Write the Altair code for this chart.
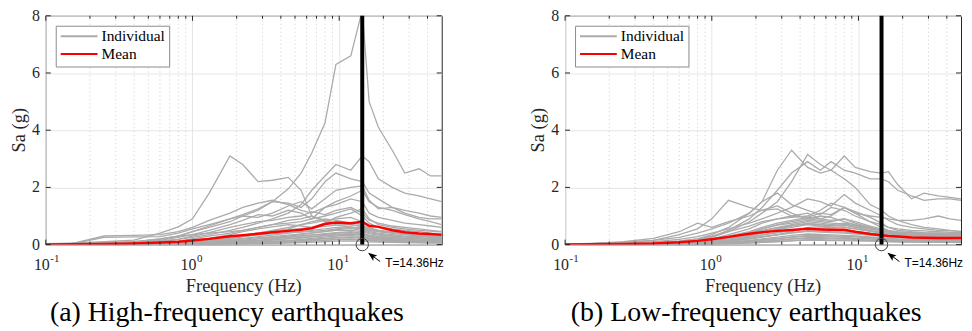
import altair as alt
import pandas as pd

# ---------------- data ----------------
freq = [0.1, 0.15, 0.25, 0.4, 0.6, 0.8, 1.0, 1.3, 1.8, 2.2, 2.8, 3.5, 4.5,
        5.5, 6.5, 8, 9.5, 12, 14.36, 16, 18.5, 23, 28, 35, 42, 50]

high_individual = [
    [0.02,0.04,0.06,0.1,0.18,0.3,0.45,0.65,0.9,1.05,1.25,1.5,1.95,2.5,3.2,4.25,6.3,6.6,8.2,5.0,4.1,3.3,2.5,2.65,2.4,2.4],
    [0.03,0.05,0.1,0.16,0.4,0.62,0.9,1.8,3.1,2.8,2.2,2.25,2.35,1.9,1.0,0.8,0.7,0.6,0.55,0.5,0.45,0.4,0.35,0.3,0.28,0.25],
    [0.01,0.02,0.04,0.07,0.12,0.18,0.25,0.35,0.5,0.6,0.75,0.9,1.1,1.4,1.9,2.4,2.8,2.6,3.1,2.9,2.3,2.0,1.8,1.7,1.6,1.5],
    [0.02,0.03,0.05,0.1,0.2,0.3,0.45,0.6,0.8,1.0,1.2,1.5,1.45,1.3,1.6,2.2,2.5,2.3,2.2,1.8,1.6,1.3,1.1,0.95,0.9,0.9],
    [0.02,0.03,0.3,0.32,0.35,0.45,0.6,0.85,1.1,1.3,1.45,1.55,1.4,1.2,1.1,1.3,1.5,1.7,1.9,1.5,1.3,1.2,1.05,0.9,0.8,0.7],
    [0.02,0.03,0.25,0.27,0.28,0.4,0.55,0.7,0.9,1.0,0.95,1.1,1.35,1.5,1.25,1.6,1.9,2.0,2.05,1.55,1.25,1.3,1.2,1.1,1.0,0.95],
    [0.01,0.02,0.04,0.08,0.15,0.25,0.35,0.5,0.7,0.85,1.05,1.0,1.2,1.1,0.9,1.3,1.4,1.6,1.5,1.1,0.95,0.85,0.75,0.7,0.65,0.6],
    [0.01,0.02,0.03,0.05,0.1,0.18,0.3,0.42,0.6,0.7,0.8,0.85,0.95,1.0,1.15,1.05,1.2,1.3,1.1,0.85,0.75,0.65,0.6,0.55,0.5,0.45],
    [0.01,0.01,0.02,0.04,0.07,0.12,0.2,0.3,0.4,0.5,0.6,0.7,0.75,0.8,0.9,1.0,1.1,1.25,1.0,0.75,0.6,0.55,0.5,0.45,0.4,0.38],
    [0.01,0.01,0.02,0.03,0.05,0.08,0.12,0.18,0.25,0.32,0.4,0.5,0.6,0.7,0.75,0.85,0.9,0.95,0.8,0.6,0.5,0.45,0.4,0.35,0.32,0.3],
    [0.0,0.01,0.01,0.02,0.03,0.05,0.08,0.12,0.18,0.22,0.28,0.33,0.4,0.45,0.5,0.55,0.6,0.62,0.55,0.45,0.4,0.35,0.3,0.28,0.25,0.24],
    [0.0,0.0,0.01,0.01,0.02,0.03,0.05,0.08,0.12,0.15,0.2,0.25,0.3,0.35,0.4,0.45,0.5,0.5,0.45,0.38,0.33,0.3,0.26,0.22,0.2,0.2],
    [0.0,0.0,0.01,0.01,0.02,0.02,0.04,0.06,0.09,0.12,0.15,0.2,0.25,0.3,0.34,0.38,0.42,0.45,0.4,0.33,0.28,0.25,0.22,0.2,0.18,0.17],
    [0.0,0.0,0.0,0.01,0.01,0.02,0.03,0.05,0.07,0.1,0.12,0.16,0.2,0.24,0.28,0.32,0.36,0.38,0.34,0.28,0.24,0.2,0.18,0.16,0.15,0.14],
    [0.0,0.0,0.0,0.01,0.01,0.01,0.02,0.03,0.05,0.07,0.09,0.12,0.15,0.18,0.22,0.26,0.3,0.32,0.28,0.24,0.2,0.17,0.15,0.13,0.12,0.11],
    [0.0,0.0,0.0,0.0,0.01,0.01,0.02,0.02,0.03,0.05,0.07,0.09,0.11,0.14,0.17,0.2,0.23,0.25,0.22,0.18,0.16,0.14,0.12,0.1,0.1,0.09],
    [0.0,0.0,0.0,0.0,0.0,0.01,0.01,0.02,0.02,0.03,0.05,0.06,0.08,0.1,0.12,0.15,0.17,0.18,0.16,0.14,0.12,0.1,0.09,0.08,0.07,0.07],
    [0.0,0.0,0.0,0.0,0.0,0.0,0.01,0.01,0.02,0.02,0.03,0.04,0.05,0.07,0.08,0.1,0.12,0.13,0.12,0.1,0.09,0.08,0.07,0.06,0.05,0.05],
    [0.0,0.01,0.01,0.02,0.04,0.06,0.1,0.15,0.2,0.28,0.36,0.45,0.55,0.7,0.8,0.9,0.85,0.75,0.7,0.55,0.5,0.42,0.38,0.34,0.3,0.28],
    [0.0,0.01,0.02,0.03,0.06,0.1,0.15,0.22,0.35,0.45,0.55,0.62,0.7,0.65,0.6,0.75,0.95,1.1,1.25,0.9,0.7,0.6,0.55,0.5,0.47,0.45],
    [0.0,0.01,0.02,0.03,0.05,0.08,0.12,0.18,0.26,0.33,0.4,0.46,0.52,0.56,0.6,0.64,0.68,0.7,0.64,0.55,0.48,0.42,0.37,0.33,0.3,0.28],
    [0.0,0.0,0.01,0.02,0.03,0.05,0.07,0.1,0.15,0.19,0.24,0.28,0.33,0.37,0.41,0.46,0.52,0.56,0.5,0.42,0.36,0.31,0.27,0.24,0.22,0.21],
    [0.0,0.0,0.01,0.01,0.02,0.03,0.04,0.06,0.09,0.11,0.14,0.17,0.21,0.24,0.27,0.31,0.34,0.36,0.33,0.28,0.24,0.21,0.18,0.16,0.15,0.14],
    [0.01,0.02,0.04,0.08,0.2,0.3,0.35,0.4,0.45,0.5,0.6,0.7,0.85,0.9,1.0,0.85,0.75,0.7,0.62,0.55,0.48,0.42,0.38,0.35,0.32,0.3],
    [0.0,0.0,0.0,0.01,0.01,0.02,0.02,0.03,0.05,0.06,0.08,0.1,0.13,0.16,0.19,0.22,0.25,0.27,0.25,0.21,0.18,0.15,0.13,0.12,0.11,0.1],
    [0.0,0.0,0.0,0.0,0.01,0.01,0.01,0.02,0.03,0.04,0.05,0.07,0.09,0.11,0.13,0.16,0.18,0.2,0.18,0.15,0.13,0.11,0.1,0.09,0.08,0.08],
    [0.0,0.01,0.01,0.02,0.04,0.07,0.1,0.15,0.22,0.28,0.34,0.38,0.42,0.44,0.46,0.5,0.55,0.6,0.58,0.5,0.45,0.4,0.36,0.33,0.31,0.3],
    [0.0,0.0,0.01,0.01,0.02,0.04,0.06,0.09,0.13,0.16,0.2,0.23,0.27,0.3,0.33,0.36,0.4,0.42,0.38,0.32,0.28,0.25,0.22,0.2,0.19,0.18],
]
high_mean = [0.0,0.01,0.02,0.04,0.07,0.1,0.14,0.2,0.29,0.33,0.38,0.43,0.48,0.52,0.57,0.72,0.77,0.75,0.8,0.66,0.62,0.5,0.43,0.39,0.37,0.34]

low_individual = [
    [0.01,0.02,0.04,0.07,0.12,0.2,0.35,0.6,1.1,1.5,2.6,3.3,2.7,2.5,2.6,2.3,2.0,1.4,1.2,1.0,0.85,0.7,0.6,0.55,0.5,0.45],
    [0.01,0.02,0.03,0.05,0.08,0.15,0.25,0.45,0.8,1.1,1.5,2.2,3.15,2.8,2.6,3.1,2.7,2.55,2.5,2.55,2.1,1.6,1.8,1.7,1.65,1.6],
    [0.01,0.02,0.03,0.05,0.1,0.16,0.28,0.5,0.9,1.3,1.9,2.5,2.9,2.6,2.9,2.6,2.5,2.3,2.3,2.2,1.9,1.7,1.55,1.6,1.6,1.55],
    [0.01,0.03,0.08,0.15,0.35,0.55,0.9,1.55,1.3,1.2,1.25,1.0,1.1,0.9,1.0,1.3,1.1,1.0,0.95,0.9,0.85,0.85,0.9,1.0,0.9,0.85],
    [0.02,0.04,0.08,0.15,0.25,0.4,0.55,0.75,1.1,1.5,1.8,1.4,1.2,1.05,1.3,1.2,1.0,0.8,0.7,0.6,0.55,0.5,0.48,0.45,0.43,0.42],
    [0.01,0.03,0.1,0.22,0.45,0.75,0.6,0.8,1.0,1.2,1.35,1.1,0.9,0.85,0.8,0.9,0.75,0.6,0.5,0.45,0.42,0.4,0.38,0.36,0.35,0.35],
    [0.01,0.02,0.04,0.07,0.12,0.2,0.3,0.45,0.65,0.8,0.9,0.95,1.0,1.2,1.45,1.3,1.1,0.8,0.6,0.5,0.45,0.42,0.4,0.4,0.38,0.38],
    [0.0,0.01,0.02,0.04,0.07,0.12,0.2,0.3,0.45,0.6,0.75,0.85,0.95,0.9,0.85,0.9,0.8,0.65,0.55,0.48,0.42,0.4,0.38,0.36,0.35,0.34],
    [0.0,0.01,0.02,0.03,0.06,0.1,0.16,0.25,0.4,0.5,0.6,0.7,0.8,0.75,0.7,0.75,0.7,0.6,0.5,0.45,0.4,0.37,0.35,0.33,0.32,0.32],
    [0.0,0.01,0.01,0.02,0.04,0.07,0.12,0.2,0.32,0.42,0.52,0.6,0.7,0.65,0.62,0.6,0.55,0.48,0.42,0.38,0.35,0.33,0.31,0.3,0.29,0.28],
    [0.0,0.0,0.01,0.02,0.03,0.05,0.09,0.15,0.25,0.33,0.42,0.5,0.58,0.55,0.52,0.5,0.46,0.4,0.35,0.32,0.3,0.28,0.27,0.26,0.25,0.25],
    [0.0,0.0,0.01,0.01,0.02,0.04,0.07,0.12,0.2,0.26,0.34,0.4,0.46,0.44,0.42,0.4,0.37,0.33,0.29,0.27,0.25,0.23,0.22,0.21,0.21,0.2],
    [0.0,0.0,0.0,0.01,0.02,0.03,0.05,0.09,0.15,0.2,0.26,0.32,0.37,0.36,0.34,0.32,0.3,0.27,0.24,0.22,0.2,0.19,0.18,0.17,0.17,0.16],
    [0.0,0.0,0.0,0.01,0.01,0.02,0.04,0.07,0.11,0.15,0.2,0.25,0.29,0.28,0.27,0.25,0.23,0.21,0.19,0.17,0.16,0.15,0.14,0.14,0.13,0.13],
    [0.0,0.0,0.0,0.0,0.01,0.02,0.03,0.05,0.08,0.11,0.15,0.19,0.22,0.21,0.2,0.19,0.18,0.16,0.15,0.14,0.13,0.12,0.11,0.11,0.1,0.1],
    [0.0,0.0,0.0,0.0,0.01,0.01,0.02,0.03,0.05,0.08,0.1,0.13,0.16,0.15,0.14,0.14,0.13,0.12,0.11,0.1,0.09,0.09,0.08,0.08,0.08,0.07],
    [0.0,0.01,0.02,0.04,0.07,0.1,0.15,0.25,0.4,0.55,0.7,0.8,0.9,1.0,0.95,0.8,0.7,0.55,0.5,0.45,0.42,0.4,0.38,0.37,0.36,0.36],
    [0.01,0.02,0.05,0.1,0.18,0.28,0.4,0.55,0.75,0.9,1.1,1.3,1.6,1.5,1.35,1.75,1.45,1.2,1.0,0.85,0.7,0.6,0.55,0.5,0.48,0.46],
    [0.0,0.01,0.02,0.04,0.07,0.12,0.2,0.35,0.55,0.75,0.9,1.0,0.95,1.1,1.05,1.3,1.15,0.95,0.75,0.6,0.5,0.45,0.42,0.4,0.38,0.37],
    [0.0,0.01,0.02,0.03,0.05,0.08,0.13,0.2,0.3,0.4,0.55,0.65,0.75,0.7,0.65,0.7,0.62,0.55,0.5,0.45,0.4,0.37,0.35,0.34,0.33,0.32],
    [0.0,0.01,0.01,0.02,0.04,0.06,0.1,0.16,0.26,0.34,0.42,0.5,0.56,0.54,0.5,0.48,0.44,0.4,0.36,0.34,0.32,0.31,0.3,0.3,0.29,0.29],
    [0.0,0.0,0.01,0.01,0.03,0.05,0.08,0.13,0.21,0.28,0.35,0.42,0.48,0.47,0.45,0.44,0.4,0.36,0.32,0.3,0.28,0.27,0.26,0.25,0.25,0.24],
    [0.0,0.0,0.0,0.01,0.02,0.03,0.05,0.08,0.13,0.17,0.22,0.27,0.32,0.31,0.3,0.29,0.27,0.24,0.22,0.2,0.19,0.18,0.17,0.17,0.16,0.16],
    [0.0,0.01,0.02,0.03,0.06,0.1,0.16,0.26,0.42,0.55,0.68,0.75,0.85,0.8,0.75,0.72,0.65,0.55,0.48,0.44,0.4,0.38,0.36,0.35,0.34,0.34],
    [0.0,0.0,0.0,0.0,0.01,0.01,0.02,0.04,0.06,0.08,0.11,0.14,0.17,0.17,0.16,0.16,0.15,0.14,0.13,0.12,0.11,0.1,0.1,0.09,0.09,0.09],
    [0.0,0.0,0.01,0.02,0.03,0.05,0.08,0.12,0.2,0.27,0.35,0.45,0.6,0.62,0.58,0.62,0.55,0.46,0.4,0.37,0.34,0.32,0.3,0.29,0.28,0.28],
    [0.0,0.0,0.0,0.01,0.01,0.02,0.03,0.05,0.09,0.12,0.16,0.2,0.24,0.24,0.23,0.22,0.21,0.19,0.17,0.16,0.15,0.14,0.13,0.13,0.12,0.12],
    [0.0,0.01,0.02,0.03,0.05,0.09,0.14,0.22,0.35,0.46,0.58,0.66,0.72,0.7,0.66,0.68,0.6,0.5,0.44,0.4,0.37,0.35,0.33,0.32,0.31,0.3],
]
low_mean = [0.0,0.01,0.02,0.04,0.08,0.13,0.19,0.27,0.38,0.43,0.48,0.51,0.55,0.53,0.52,0.52,0.45,0.37,0.33,0.3,0.28,0.25,0.24,0.23,0.23,0.23]

x_major = [0.1, 1, 10]
x_minor = [0.2, 0.3, 0.4, 0.5, 0.6, 0.7, 0.8, 0.9,
           2, 3, 4, 5, 6, 7, 8, 9, 20, 30, 40]
y_major = [0, 2, 4, 6, 8]
y_labels = ["0", "2", "4", "6", "8"]
tick_base = ["10", "10", "10"]
tick_exp = ["-1", "0", "1"]
x_title = "Frequency (Hz)"
y_title = "Sa (g)"
T_freq = 14.36
T_label = "T=14.36Hz"
titles = ["(a) High-frequency earthquakes", "(b) Low-frequency earthquakes"]

# ---------------- styling ----------------
W, H = 398, 230
SERIF = "Liberation Serif"
SANS = "Liberation Sans"
INK = "#262626"
GRAY = "#ababab"
RED = "#ff0000"


def panel(indiv, mean, title):
    rows = []
    for i, curve in enumerate(indiv):
        for f, v in zip(freq, curve):
            rows.append({"freq": f, "sa": v, "id": i, "series": "Individual"})
    df_ind = pd.DataFrame(rows)
    df_mean = pd.DataFrame({"freq": freq, "sa": mean, "series": "Mean"})

    xs = alt.Scale(type="log", domain=[0.1, 50], nice=False)
    ys = alt.Scale(domain=[0, 8], nice=False)
    x_axis = alt.Axis(values=x_major, grid=True, labels=False, ticks=False,
                      domain=False, title=None, gridColor="#e6e6e6")
    y_axis = alt.Axis(values=y_major, grid=True, labels=False, ticks=False,
                      domain=False, title=None, gridColor="#e6e6e6")
    X = alt.X("freq:Q", scale=xs, axis=x_axis)
    Y = alt.Y("sa:Q", scale=ys, axis=y_axis)
    color = alt.Color(
        "series:N",
        scale=alt.Scale(domain=["Individual", "Mean"], range=[GRAY, RED]),
        legend=alt.Legend(title=None, orient="top-left", offset=10,
                          symbolType="stroke", symbolSize=1369,
                          symbolStrokeWidth=2, clipHeight=13, rowPadding=2,
                          padding=4, labelOffset=3, strokeColor="#8c8c8c",
                          fillColor="white", labelFont=SERIF,
                          labelFontSize=15.5, labelColor="black"),
    )

    minor = pd.DataFrame({"freq": x_minor})
    major = pd.DataFrame({"freq": x_major, "sa": [0, 0, 0],
                          "base": tick_base, "exp": tick_exp})
    yt = pd.DataFrame({"sa": y_major, "lab": y_labels})
    tdf = pd.DataFrame({"freq": [T_freq], "sa": [0]})
    one = pd.DataFrame({"k": [0]})

    minor_grid = alt.Chart(minor).mark_rule(
        color="#cdcdcd", strokeDash=[1, 3], strokeWidth=1).encode(x=X)
    lines = alt.Chart(df_ind).mark_line(strokeWidth=1.3, clip=True).encode(
        x=X, y=Y, color=color, detail="id:N")
    mean_line = alt.Chart(df_mean).mark_line(strokeWidth=2.5, clip=True).encode(
        x=X, y=Y, color=color)
    vline = alt.Chart(tdf).mark_rule(color="black", strokeWidth=4).encode(x=X)
    circle = alt.Chart(tdf).mark_point(
        shape="circle", size=154, filled=False, color="#404040",
        strokeWidth=1, opacity=1).encode(x=X, y=Y)
    shaft = alt.Chart(tdf).mark_rule(
        color="black", strokeWidth=1, xOffset=7, yOffset=9,
        x2Offset=18, y2Offset=17).encode(
        x=X, y=Y, x2=alt.X2("freq:Q"), y2=alt.Y2("sa:Q"))
    head = alt.Chart(tdf).mark_point(
        shape="M0,-1L0.75,1L0,0.55L-0.75,1Z", filled=True, color="black",
        size=80, angle=307, xOffset=9.5, yOffset=11, opacity=1).encode(x=X, y=Y)
    tlabel = alt.Chart(tdf).mark_text(
        text=T_label, align="left", baseline="alphabetic", dx=23, dy=23,
        font=SANS, fontSize=12, color="black").encode(x=X, y=Y)
    lab_base = alt.Chart(major).mark_text(
        align="right", baseline="alphabetic", dx=4, dy=26, font=SERIF,
        fontSize=16, color=INK).encode(x=X, y=Y, text="base:N")
    lab_exp = alt.Chart(major).mark_text(
        align="left", baseline="alphabetic", dx=4.5, dy=17, font=SERIF,
        fontSize=11, color=INK).encode(x=X, y=Y, text="exp:N")
    ylab = alt.Chart(yt).mark_text(
        align="right", baseline="middle", font=SERIF, fontSize=16,
        color=INK).encode(y=Y, x=alt.value(-6), text="lab:N")
    xtitle = alt.Chart(one).mark_text(
        text=x_title, align="center", baseline="alphabetic", font=SERIF,
        fontSize=18.5, color=INK).encode(x=alt.value(W / 2), y=alt.value(H + 48))
    ytitle = alt.Chart(one).mark_text(
        text=y_title, align="center", baseline="middle", angle=270, font=SERIF,
        fontSize=18.5, color=INK).encode(x=alt.value(-27), y=alt.value(H / 2))
    # inward ticks (MATLAB box style)
    xt_bot = alt.Chart(major).mark_rule(color=INK).encode(
        x=X, y=alt.value(H), y2=alt.value(H - 5))
    xt_top = alt.Chart(major).mark_rule(color=INK).encode(
        x=X, y=alt.value(0), y2=alt.value(5))
    xm_bot = alt.Chart(minor).mark_rule(color=INK).encode(
        x=X, y=alt.value(H), y2=alt.value(H - 3))
    xm_top = alt.Chart(minor).mark_rule(color=INK).encode(
        x=X, y=alt.value(0), y2=alt.value(3))
    yt_left = alt.Chart(yt).mark_rule(color=INK).encode(
        y=Y, x=alt.value(0), x2=alt.value(5))
    yt_right = alt.Chart(yt).mark_rule(color=INK).encode(
        y=Y, x=alt.value(W - 5), x2=alt.value(W))

    return alt.layer(
        minor_grid, lines, mean_line, vline, circle, shaft, head, tlabel,
        lab_base, lab_exp, ylab, xtitle, ytitle,
        xt_bot, xt_top, xm_bot, xm_top, yt_left, yt_right,
    ).properties(
        width=W, height=H,
        title=alt.TitleParams(text=title, orient="bottom", font=SERIF,
                              fontSize=28, fontWeight="normal", color="black",
                              anchor="middle", frame="bounds", offset=3),
    ).resolve_scale(color="shared")


pa = panel(high_individual, high_mean, titles[0])
pb = panel(low_individual, low_mean, titles[1])

chart = alt.hconcat(pa, pb, spacing=124, bounds="flush").resolve_scale(
    color="independent").resolve_legend(color="independent").properties(
    padding={"left": 1, "top": -2, "right": 0, "bottom": 0}
).configure(font=SERIF).configure_view(stroke=INK, strokeWidth=1)

chart.save("out.html", embed_options={"renderer": "svg", "actions": False})
